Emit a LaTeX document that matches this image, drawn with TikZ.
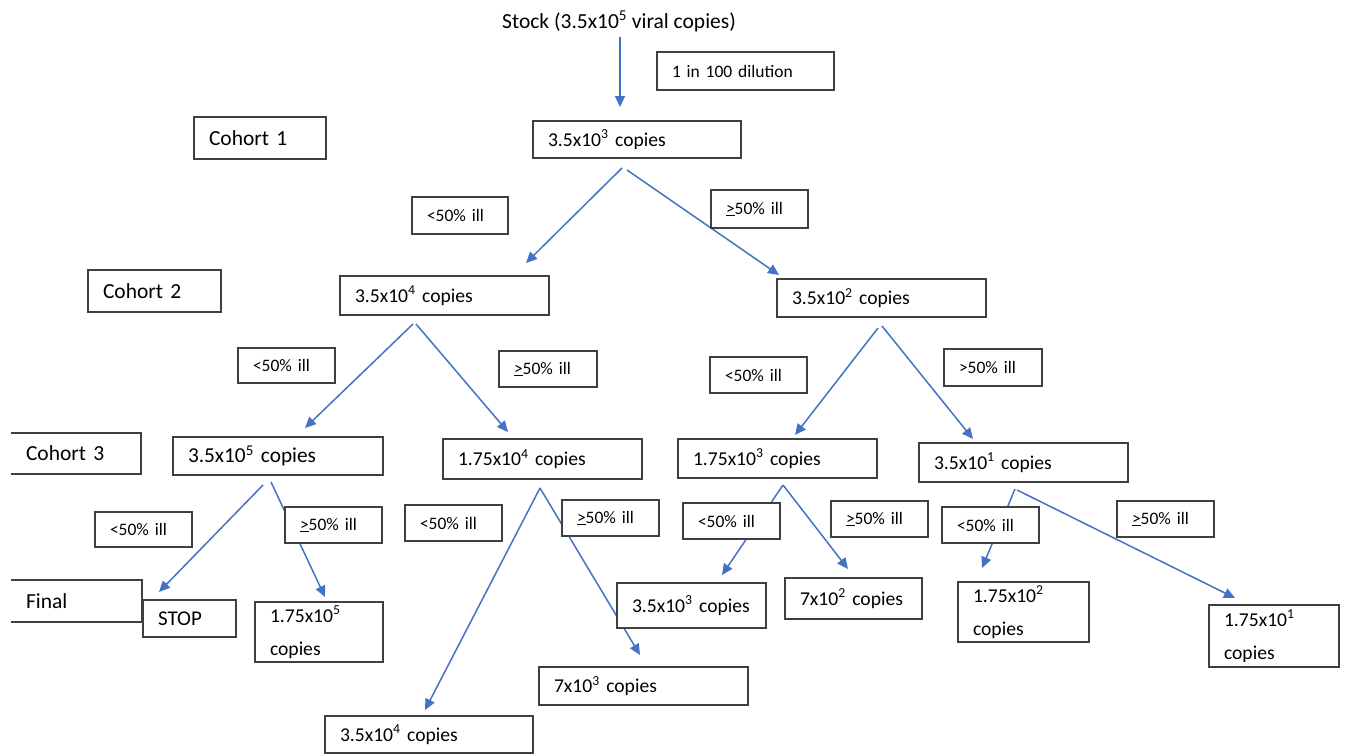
\documentclass[tikz,border=0pt]{standalone}
\usepackage{fontspec}
\setmainfont{Carlito}
\usetikzlibrary{arrows.meta}
\definecolor{arrblue}{HTML}{4472C4}
\definecolor{boxgray}{HTML}{404040}
\newcommand\sx[1]{\textsuperscript{#1}}
\newcommand\geill{\underline{>}50\% ill}
\newcommand\ltill{<50\% ill}
\tikzset{
  base/.style={anchor=north west, inner xsep=15pt, inner ysep=0pt, align=left, outer sep=0pt},
  box/.style={base, draw=boxgray, line width=1.2pt, fill=white, font=\fontsize{19.6}{33}\selectfont},
  lbl/.style={box, font=\fontsize{17.5}{21}\selectfont},
  big/.style={box, font=\fontsize{21.5}{26}\selectfont},
  openbox/.style={base, font=\fontsize{21.5}{26}\selectfont},
  sz/.style 2 args={minimum width=#1pt, text width=\dimexpr #1pt-30pt\relax, minimum height=#2pt},
  arr/.style={draw=arrblue, line width=1.5pt, -{Triangle[length=11pt,width=10pt]}},
  edge3/.style={draw=boxgray, line width=1.2pt},
}
\begin{document}
\begin{tikzpicture}[x=1pt,y=-1pt]
\useasboundingbox (0,0) rectangle (1348,755);
\fill[white] (0,0) rectangle (1348,755);

% arrow end points
\coordinate (s0) at (620,37);   \coordinate (e0) at (620,107);
\coordinate (s1L) at (622,168); \coordinate (e1L) at (526,263);
\coordinate (s1R) at (627,170); \coordinate (e1R) at (779,275);
\coordinate (s2L) at (413,324); \coordinate (e2L) at (305,428);
\coordinate (s2R) at (416,324); \coordinate (e2R) at (508,432);
\coordinate (s3L) at (878,328); \coordinate (e3L) at (795,435);
\coordinate (s3R) at (882,326); \coordinate (e3R) at (973,439);
\coordinate (s4L) at (263,485); \coordinate (e4L) at (159,592);
\coordinate (s4R) at (271,482); \coordinate (e4R) at (325,597);
\coordinate (s5) at (540,488);  \coordinate (e5L) at (425,710); \coordinate (e5R) at (640,655);
\coordinate (s6) at (783,485);  \coordinate (e6L) at (722,575); \coordinate (e6R) at (848,569);
\coordinate (s7L) at (1015,489); \coordinate (e7L) at (982,568);
\coordinate (s7R) at (1017,490); \coordinate (e7R) at (1235,598);

\foreach \a/\b in {s0/e0,s1L/e1L,s1R/e1R,s2L/e2L,s2R/e2R,s3L/e3L,s3R/e3R,s4L/e4L,s4R/e4R,s5/e5L,s5/e5R,s6/e6L,s6/e6R,s7L/e7L,s7R/e7R}
  \draw[arr] (\a) -- (\b);

% title
\node[anchor=base, font=\fontsize{21.5}{26}\selectfont, inner sep=0pt] (stock) at (619,28) {Stock (3.5x10\sx{5} viral copies)};
\node[lbl, sz={177}{38}] (dil) at (657,52) {1 in 100 dilution};

% cohort labels
\node[big, sz={132}{42}] (c1) at (194,117) {Cohort 1};
\node[big, sz={133}{42}] (c2) at (88,270) {Cohort 2};
\node[openbox, sz={130}{41}] (c3) at (11,433) {Cohort 3};
\node[openbox, sz={131}{42}] (fin) at (11,580) {Final};
\draw[edge3] (c3.north west) -- (c3.north east) -- (c3.south east) -- (c3.south west);
\draw[edge3] (fin.north west) -- (fin.north east) -- (fin.south east) -- (fin.south west);

% level 0/1 boxes
\node[box, sz={208}{37}] (b0) at (533,121) {3.5x10\sx{3} copies};
\node[box, sz={209}{39}] (b1a) at (340,276) {3.5x10\sx{4} copies};
\node[box, sz={209}{38}] (b1b) at (777,279) {3.5x10\sx{2} copies};

% level 2 boxes
\node[box, sz={210}{38}, font=\fontsize{21.3}{26}\selectfont] (b2a) at (173,437) {3.5x10\sx{5} copies};
\node[box, sz={199}{40}] (b2b) at (443,439) {1.75x10\sx{4} copies};
\node[box, sz={199}{39}] (b2c) at (678,439) {1.75x10\sx{3} copies};
\node[box, sz={209}{39}] (b2d) at (919,443) {3.5x10\sx{1} copies};

% decision labels
\node[lbl, sz={96}{37}] (l1a) at (412,197) {\ltill};
\node[lbl, sz={97}{38}] (l1b) at (711,190) {\geill};
\node[lbl, sz={97}{35}] (l2a) at (238,348) {\ltill};
\node[lbl, sz={98}{36}] (l2b) at (499,351) {\geill};
\node[lbl, sz={97}{36}] (l2c) at (710,357) {\ltill};
\node[lbl, sz={98}{37}] (l2d) at (944,349) {>50\% ill};
\node[lbl, sz={97}{35}] (l3a) at (95,512) {\ltill};
\node[lbl, sz={97}{36}] (l3b) at (285,507) {\geill};
\node[lbl, sz={97}{36}] (l3c) at (405,505) {\ltill};
\node[lbl, sz={97}{36}] (l3d) at (562,500) {\geill};
\node[lbl, sz={97}{36}] (l3e) at (683,503) {\ltill};
\node[lbl, sz={97}{36}] (l3f) at (831,501) {\geill};
\node[lbl, sz={97}{36}] (l3g) at (942,507) {\ltill};
\node[lbl, sz={97}{36}] (l3h) at (1117,501) {\geill};

% final boxes
\node[box, sz={93}{37}, font=\fontsize{21}{26}\selectfont] (f1) at (143,600) {STOP};
\node[box, sz={128}{60}] (f2) at (255,602) {1.75x10\sx{5}\\copies};
\node[box, sz={208}{37}] (f3) at (325,716) {3.5x10\sx{4} copies};
\node[box, sz={209}{38}] (f4) at (539,667) {7x10\sx{3} copies};
\node[box, sz={149}{45}] (f5) at (617,583) {3.5x10\sx{3} copies};
\node[box, sz={137}{41}] (f6) at (785,578) {7x10\sx{2} copies};
\node[box, sz={131}{60}] (f7) at (958,582) {1.75x10\sx{2}\\copies};
\node[box, sz={130}{62}] (f8) at (1209,605) {1.75x10\sx{1}\\copies};
\end{tikzpicture}
\end{document}
